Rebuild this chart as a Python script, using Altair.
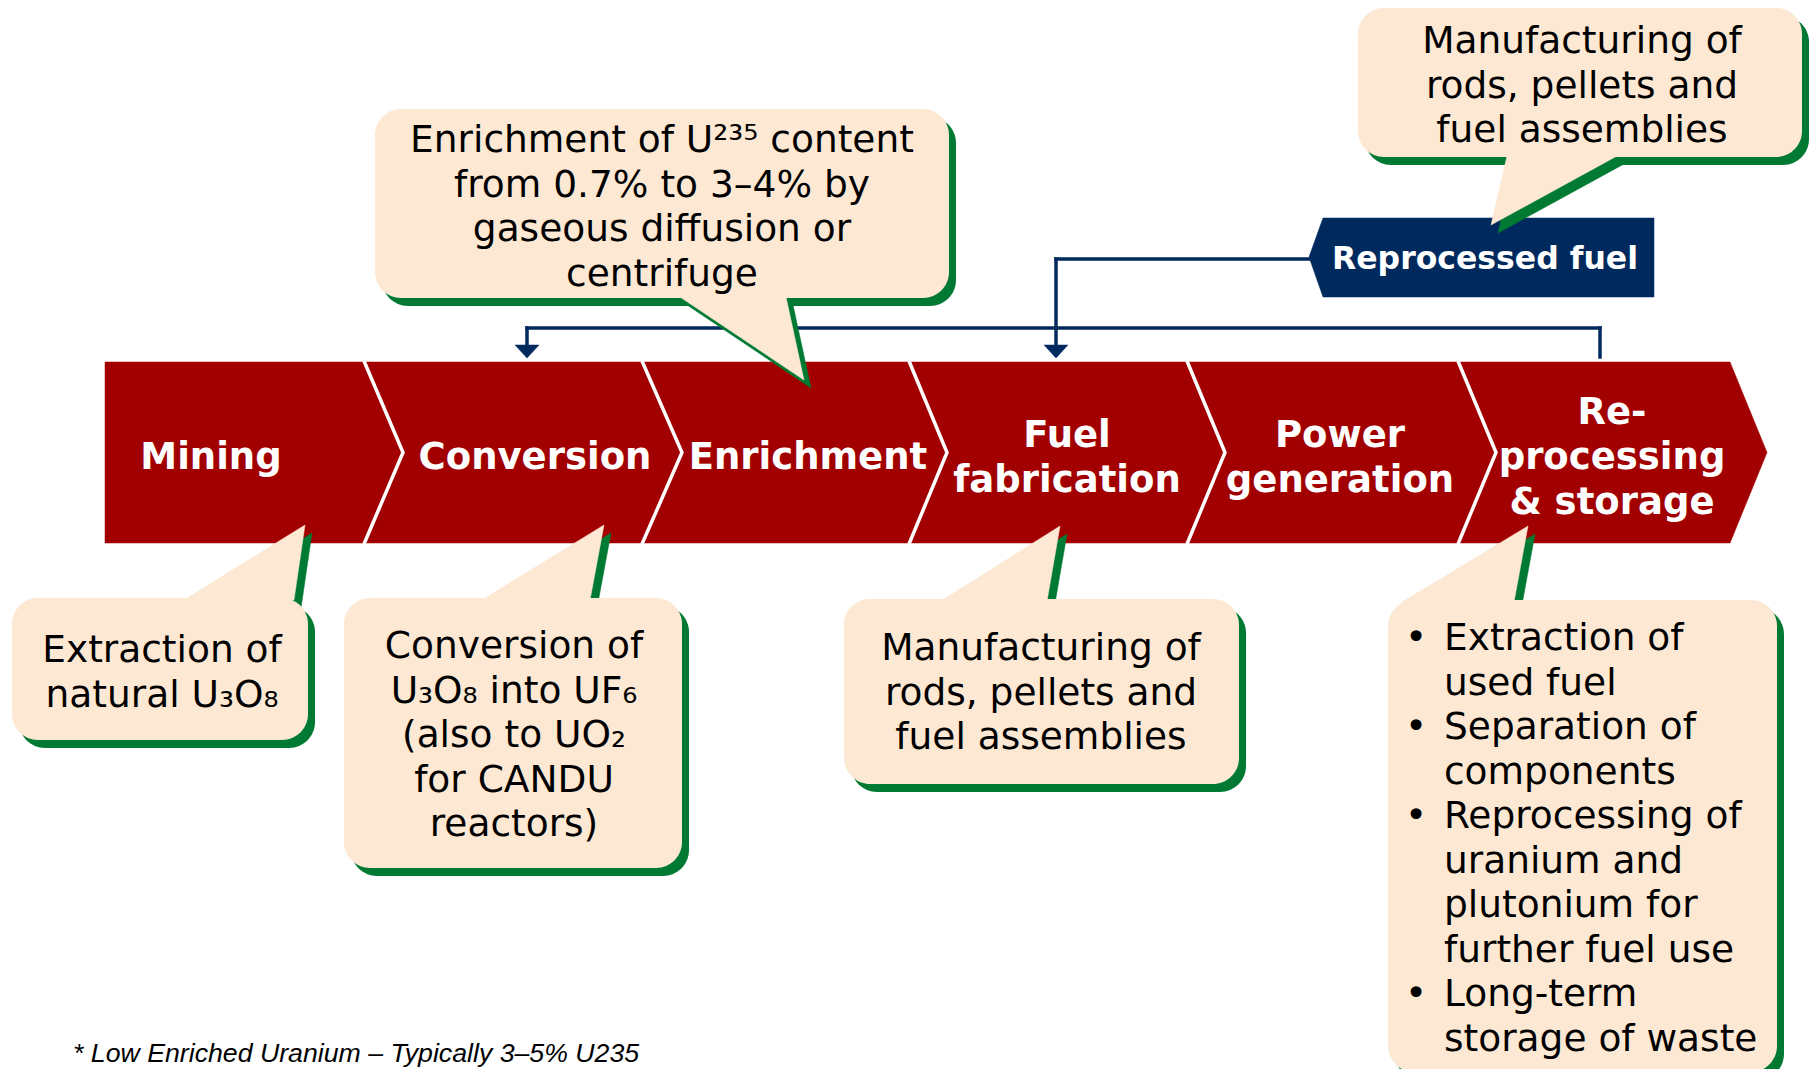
import altair as alt
import pandas as pd

# ---- canvas (page pixel coordinates; the page has an 8px margin) ----
W, H = 1802, 1061
OX, OY = 8, 8

RED = "#A20000"
PEACH = "#FDE8D3"
GREEN = "#007A33"
NAVY = "#002A5E"
FONT = "DejaVu Sans"

# ---- process stages (chevron band) ----
stage_labels = [["Mining"], ["Conversion"], ["Enrichment"], ["Fuel", "fabrication"],
                ["Power", "generation"], ["Re-", "processing", "& storage"]]
stage_centers = [211, 535, 808, 1067, 1340, 1612]
divider_top = [364, 642, 909, 1187, 1458]
divider_tip = [403, 682, 947, 1225, 1496]
band_left, band_right, band_tip = 105, 1730, 1767
band_top, band_bot = 362, 543

# ---- callouts ----
callout_names = ["enrichment", "recycle", "mining", "conversion", "fabrication", "reprocessing"]
callout_boxes = [(375, 949, 109, 298), (1358, 1802, 8, 157), (12, 308, 598, 740),
                 (344, 682, 598, 868), (844, 1239, 599, 784), (1388, 1777, 600, 1072)]
callout_tails = [((680, 297), (786, 297), (804, 380)),
                 ((1507, 156), (1617, 156), (1491, 225)),
                 ((184, 600), (294, 600), (305, 525)),
                 ((482, 600), (590, 600), (604, 525)),
                 ((941, 601), (1047, 601), (1060, 526)),
                 ((1402, 602), (1514, 602), (1528, 526))]
callout_lines = [
    ["Enrichment of U\u00b2\u00b3\u2075 content", "from 0.7% to 3\u20134% by", "gaseous diffusion or", "centrifuge"],
    ["Manufacturing of", "rods, pellets and", "fuel assemblies"],
    ["Extraction of", "natural U\u2083O\u2088"],
    ["Conversion of", "U\u2083O\u2088 into UF\u2086", "(also to UO\u2082", "for CANDU", "reactors)"],
    ["Manufacturing of", "rods, pellets and", "fuel assemblies"],
    ["Extraction of", "used fuel", "Separation of", "components", "Reprocessing of",
     "uranium and", "plutonium for", "further fuel use", "Long-term", "storage of waste"],
]
callout_text_x = [662, 1582, 162, 514, 1041, 1444]
callout_first_baseline = [152, 53, 662, 658, 660, 650]
callout_align = ["center", "center", "center", "center", "center", "left"]
bullet_rows = [0, 2, 4, 8]
bullet_x = 1416
LINE_STEP = 44.5
SHADOW = (7, 8)

# ---- reprocessed fuel loop ----
reproc_label = "Reprocessed fuel"
reproc_tag = [(1309, 257), (1323, 218), (1654, 218), (1654, 297), (1323, 297)]
reproc_label_pos = (1485, 269)
connector_segments = [((1309, 259), (1056, 259)), ((1056, 259), (1056, 346)),
                      ((1600, 357), (1600, 328)), ((1600, 328), (527, 328)),
                      ((527, 328), (527, 346))]
arrow_tips = [(1056, 358), (527, 358)]

footnote = "* Low Enriched Uranium \u2013 Typically 3\u20135% U235"
footnote_pos = (73, 1062)

# ---------------- helpers ----------------
xs = alt.Scale(domain=[OX, OX + W], range=[0, W], nice=False, zero=False)
ys = alt.Scale(domain=[OY, OY + H], range=[0, H], nice=False, zero=False)


def X(f="x"):
    return alt.X(f"{f}:Q", scale=xs, axis=None)


def Y(f="y"):
    return alt.Y(f"{f}:Q", scale=ys, axis=None)


def polys(poly_list, fill):
    feats = []
    for p in poly_list:
        ring = [[float(a), float(b)] for a, b in p]
        ring.append(ring[0])
        feats.append({"type": "Feature", "properties": {},
                      "geometry": {"type": "Polygon", "coordinates": [ring]}})
    return (alt.Chart(alt.Data(values=feats))
            .mark_geoshape(fill=fill, stroke=fill, strokeWidth=0.5)
            .project(type="identity", scale=1, translate=[-OX, -OY]))


def rects(rows, color, radius=26):
    df = pd.DataFrame(rows, columns=["x", "x2", "y", "y2"])
    return alt.Chart(df).mark_rect(cornerRadius=radius, color=color).encode(
        x=X(), x2="x2:Q", y=Y(), y2="y2:Q")


def texts(rows, size, weight="normal", color="black", align="center", font=FONT, style="normal"):
    df = pd.DataFrame(rows, columns=["x", "y", "t"])
    return alt.Chart(df).mark_text(font=font, fontSize=size, fontWeight=weight, color=color,
                                   align=align, baseline="alphabetic", fontStyle=style).encode(
        x=X(), y=Y(), text="t:N")


layers = []

# chevron band
band = [(band_left, band_top), (band_right, band_top), (band_tip, (band_top + band_bot) / 2),
        (band_right, band_bot), (band_left, band_bot)]
layers.append(polys([band], RED))

# white chevron dividers
div_rows = []
mid = (band_top + band_bot) / 2
for i, (t, p) in enumerate(zip(divider_top, divider_tip)):
    div_rows += [(i, 0, t, band_top - 1), (i, 1, p, mid), (i, 2, t, band_bot + 1)]
div_df = pd.DataFrame(div_rows, columns=["id", "o", "x", "y"])
layers.append(alt.Chart(div_df).mark_line(color="white", strokeWidth=3.5, strokeJoin="miter").encode(
    x=X(), y=Y(), detail="id:N", order="o:Q"))

# connectors
seg_df = pd.DataFrame([(a[0], b[0], a[1], b[1]) for a, b in connector_segments],
                      columns=["x", "x2", "y", "y2"])
layers.append(alt.Chart(seg_df).mark_rule(color=NAVY, strokeWidth=3.5, strokeCap="square").encode(
    x=X(), x2="x2:Q", y=Y(), y2="y2:Q"))
layers.append(polys([[(x - 12, y - 13), (x + 12, y - 13), (x, y)] for x, y in arrow_tips], NAVY))

# reprocessed fuel tag
layers.append(polys([reproc_tag], NAVY))

# callout shadows
dx, dy = SHADOW
layers.append(rects([(a + dx, b + dx, c + dy, d + dy) for a, b, c, d in callout_boxes], GREEN))
layers.append(polys([[(px + dx, py + dy) for px, py in t] for t in callout_tails], GREEN))
# callout bodies
layers.append(rects(callout_boxes, PEACH))
layers.append(polys([list(t) for t in callout_tails], PEACH))

# callout texts
center_rows, left_rows, bullet_txt = [], [], []
for lines, cx, b0, al in zip(callout_lines, callout_text_x, callout_first_baseline, callout_align):
    for k, ln in enumerate(lines):
        row = (cx, b0 + k * LINE_STEP, ln)
        (center_rows if al == "center" else left_rows).append(row)
        if al == "left" and k in bullet_rows:
            bullet_txt.append((bullet_x, b0 + k * LINE_STEP, "\u2022"))
layers.append(texts(center_rows, 37.5))
layers.append(texts(left_rows, 37.5, align="left"))
layers.append(texts(bullet_txt, 37.5))

# stage labels
stage_rows = []
for lines, cx in zip(stage_labels, stage_centers):
    n = len(lines)
    for k, ln in enumerate(lines):
        stage_rows.append((cx, 469 + (k - (n - 1) / 2) * 45, ln))
layers.append(texts(stage_rows, 37, weight="bold", color="white"))

# reprocessed fuel label
layers.append(texts([(reproc_label_pos[0], reproc_label_pos[1], reproc_label)], 31.5,
                    weight="bold", color="white"))

# footnote
layers.append(texts([(footnote_pos[0], footnote_pos[1], footnote)], 26.7, align="left",
                    font="Liberation Sans", style="italic"))

chart = (alt.layer(*layers)
         .properties(width=W, height=H, autosize=alt.AutoSizeParams(type="none"), padding=0,
                     background="white")
         .configure_view(stroke=None))

chart.save("out.html", embed_options={"renderer": "svg", "actions": False})
